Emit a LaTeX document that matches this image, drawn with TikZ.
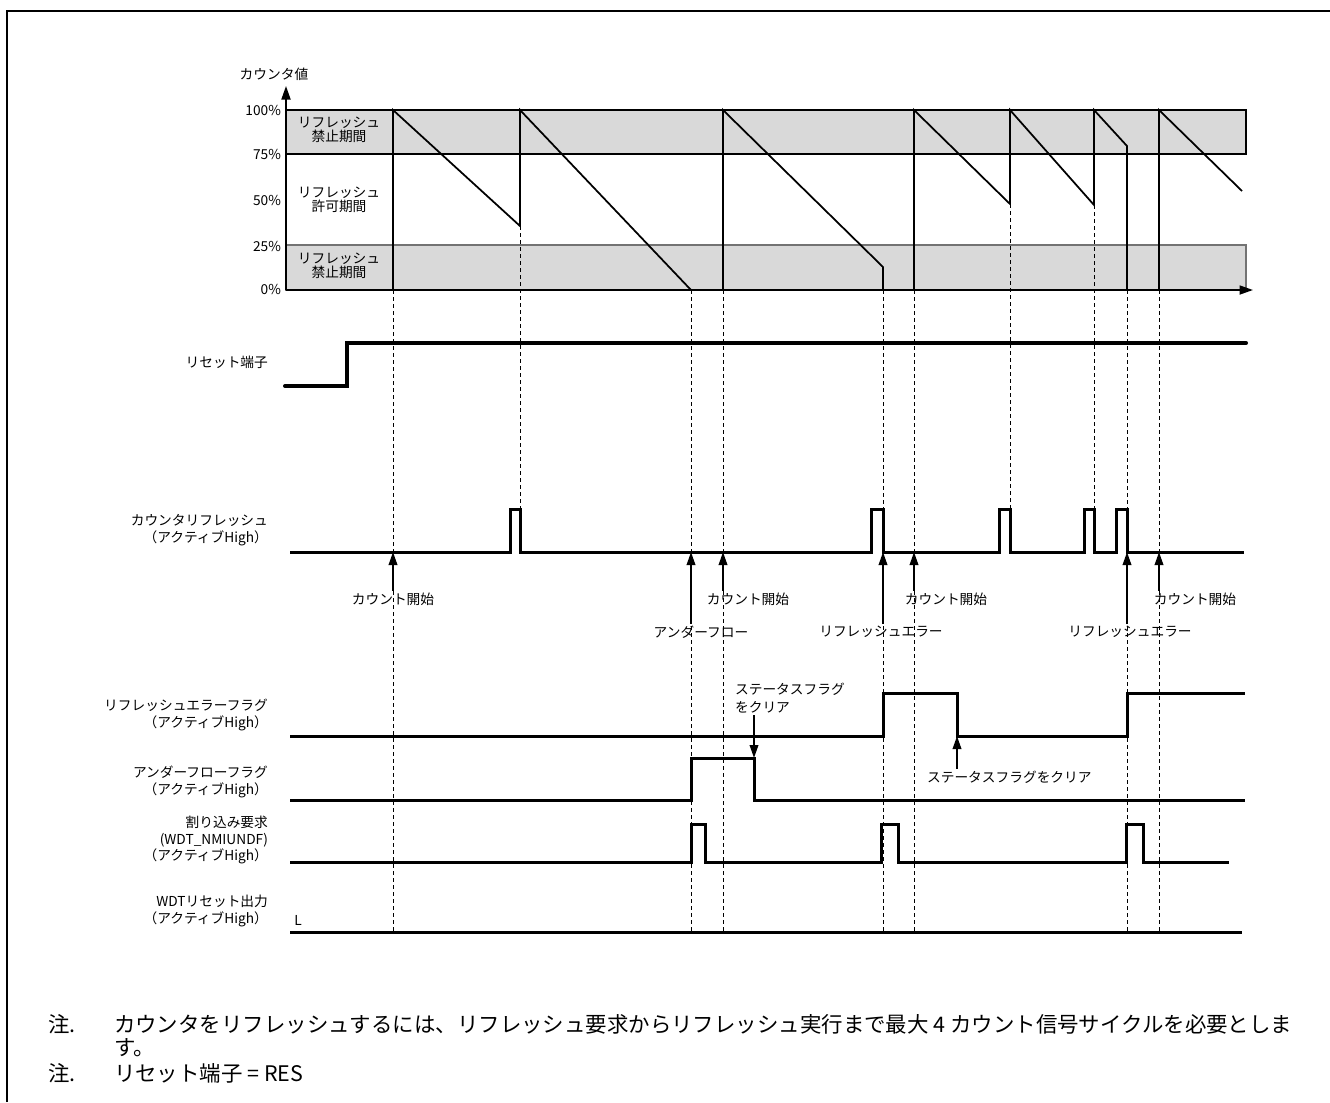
\documentclass[tikz,border=0pt]{standalone}
\usepackage{fontspec}
\setmainfont{Noto Sans CJK JP}
\usetikzlibrary{arrows.meta}

\begin{document}
\begin{tikzpicture}[
    x=0.2mm, y=-0.2mm,
    font=\fontsize{7.8}{8}\selectfont,
    every node/.style={inner sep=1pt},
    band/.style={fill=black!15, draw=black, line width=0.3mm},
    counter/.style={line width=0.35mm},
    axisarrow/.style={line width=0.35mm, -{Triangle[length=2.7mm,width=1.8mm]}},
    guide/.style={line width=0.2mm, dash pattern=on 0.8mm off 0.6mm},
    signal/.style={line width=0.6mm},
    marker/.style={line width=0.4mm, -{Triangle[length=2.6mm,width=1.7mm]}},
    signame/.style={anchor=east, align=right, font=\fontsize{7.8}{9.4}\selectfont},
    note/.style={anchor=west, align=left, font=\fontsize{12.2}{13.1}\selectfont}
]

\useasboundingbox (0,0) rectangle (1330,1102);
\draw[line width=0.3mm] (7,1102) -- (7,11) -- (1330,11);


\filldraw[band] (286,110) rectangle (1246,154);
\filldraw[band, draw=black!55] (286,245) rectangle (1246,290);

\draw[axisarrow] (286,290) -- (286,86);
\draw[axisarrow] (286,290) -- (1253,290);
\node (cntval) at (274,74) {カウンタ値};

\node[anchor=east] (pc100) at (283,110) {100\%};
\node[anchor=east] (pc75) at (283,154) {75\%};
\node[anchor=east] (pc50) at (283,200) {50\%};
\node[anchor=east] (pc25) at (283,246) {25\%};
\node[anchor=east] (pc0) at (283,289) {0\%};

\node[align=center] (lockhi) at (339,130) {リフレッシュ\\禁止期間};
\node[align=center] (window) at (339,200) {リフレッシュ\\許可期間};
\node[align=center] (locklo) at (339,266) {リフレッシュ\\禁止期間};


\draw[guide] (393,290) -- (393,932);
\draw[guide] (520,226) -- (520,509);
\draw[guide] (691,290) -- (691,932);
\draw[guide] (723,290) -- (723,932);
\draw[guide] (883,290) -- (883,932);
\draw[guide] (914,290) -- (914,932);
\draw[guide] (1010,204) -- (1010,509);
\draw[guide] (1094,205) -- (1094,509);
\draw[guide] (1127,290) -- (1127,932);
\draw[guide] (1159,290) -- (1159,932);


\draw[counter] (393,290) -- (393,110) -- (520,226) -- (520,110) -- (691,290)
    -- (723,290) -- (723,110) -- (883,267) -- (883,290) -- (914,290)
    -- (914,110) -- (1010,204) -- (1010,110) -- (1094,205) -- (1094,110)
    -- (1127,146) -- (1127,290) -- (1159,290) -- (1159,110) -- (1242,191);


\node[signame] (rstname) at (270,362) {リセット端子};
\draw[line width=0.8mm, line cap=round] (285,386) -- (347,386) -- (347,343) -- (1246,343);


\node[signame] (refname) at (270,530) {カウンタリフレッシュ\\（アクティブHigh）};
\draw[signal] (290,552) -- (510,552) -- (510,509) -- (520,509) -- (520,552)
    -- (871,552) -- (871,509) -- (883,509) -- (883,552)
    -- (999,552) -- (999,509) -- (1010,509) -- (1010,552)
    -- (1084,552) -- (1084,509) -- (1094,509) -- (1094,552)
    -- (1116,552) -- (1116,509) -- (1127,509) -- (1127,552) -- (1244,552);

\coordinate (ev1) at (393,552);
\coordinate (ev3) at (691,552);
\coordinate (ev4) at (723,552);
\coordinate (ev5) at (883,552);
\coordinate (ev6) at (914,552);
\coordinate (ev9) at (1127,552);
\coordinate (ev10) at (1159,552);

\node (start1) at (393,599) {カウント開始};
\node (start2) at (748,599) {カウント開始};
\node (start3) at (946,599) {カウント開始};
\node (start4) at (1195,599) {カウント開始};
\node (under) at (701,632) {アンダーフロー};
\node (rferr1) at (881,632) {リフレッシュエラー};
\node (rferr2) at (1130,632) {リフレッシュエラー};

\draw[marker] (start1.north -| ev1) -- (ev1);
\draw[marker] (start2.north -| ev4) -- (ev4);
\draw[marker] (start3.north -| ev6) -- (ev6);
\draw[marker] (start4.north -| ev10) -- (ev10);
\draw[marker] (under.north -| ev3) -- (ev3);
\draw[marker] (rferr1.north -| ev5) -- (ev5);
\draw[marker] (rferr2.north -| ev9) -- (ev9);


\node[signame] (errname) at (270,715) {リフレッシュエラーフラグ\\（アクティブHigh）};
\draw[signal] (290,736) -- (883,736) -- (883,693) -- (957,693) -- (957,736)
    -- (1127,736) -- (1127,693) -- (1245,693);

\coordinate (clrerr) at (957,736);
\node[anchor=west] (clear2) at (925,777) {ステータスフラグをクリア};
\draw[marker] (clear2.north -| clrerr) -- (clrerr);


\node[signame] (ufname) at (270,782) {アンダーフローフラグ\\（アクティブHigh）};
\draw[signal] (290,800) -- (691,800) -- (691,758) -- (754,758) -- (754,800) -- (1245,800);

\coordinate (clruf) at (754,758);
\node[anchor=west, align=left, font=\fontsize{7.8}{10.2}\selectfont] (clear1) at (733,698) {ステータスフラグ\\をクリア};
\draw[marker] (clear1.south -| clruf) -- (clruf);


\node[signame] (irqname) at (270,840) {割り込み要求\\(WDT\_NMIUNDF)\\（アクティブHigh）};
\draw[signal] (290,862) -- (691,862) -- (691,824) -- (705,824) -- (705,862)
    -- (881,862) -- (881,824) -- (898,824) -- (898,862)
    -- (1126,862) -- (1126,824) -- (1143,824) -- (1143,862) -- (1229,862);


\node[signame] (wdtname) at (270,911) {WDTリセット出力\\（アクティブHigh）};
\node (lvl) at (298,920) {L};
\draw[signal] (290,932) -- (1242,932);


\node[note] (mark1) at (46,1024) {注.};
\node[note] (note1) at (112,1036) {カウンタをリフレッシュするには、リフレッシュ要求からリフレッシュ実行まで最大 4 カウント信号サイクルを必要としま\\す。};
\node[note] (mark2) at (46,1073) {注.};
\node[note] (note2) at (112,1073) {リセット端子 = RES};

\end{tikzpicture}
\end{document}
